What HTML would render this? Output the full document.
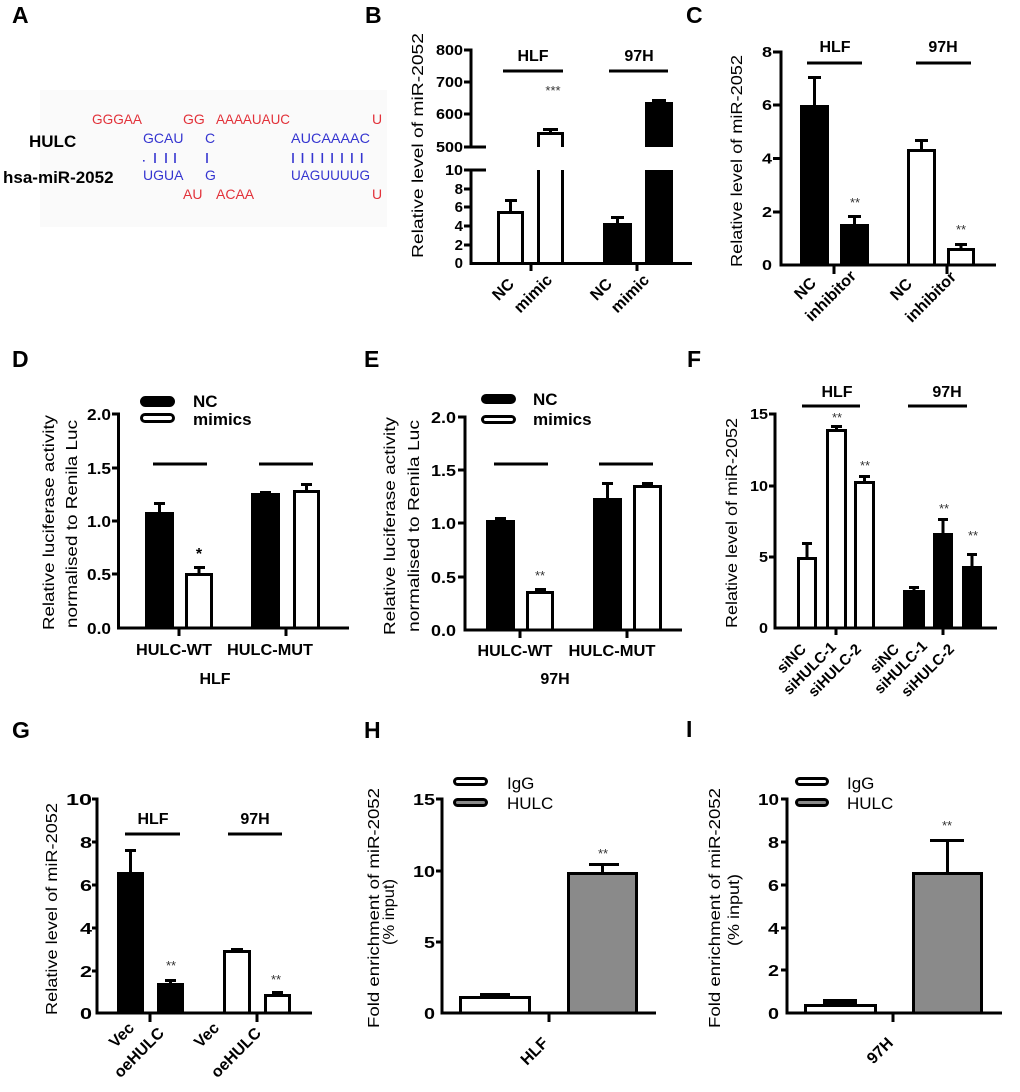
<!DOCTYPE html>
<html><head><meta charset="utf-8">
<style>
html,body{margin:0;padding:0;background:#fff;}
svg{display:block;font-family:"Liberation Sans",Arial,sans-serif;}
.pl{font-weight:bold;font-size:23px;}
.tk{font-weight:bold;font-size:15px;text-anchor:end;}
.tk16{font-weight:bold;font-size:16px;text-anchor:end;}
.xl{font-weight:bold;font-size:16px;text-anchor:end;}
.xl14{font-weight:bold;font-size:15px;text-anchor:end;}
.gl{font-weight:bold;font-size:16px;text-anchor:middle;}
.gl16{font-weight:bold;font-size:16px;text-anchor:middle;}
.yl{font-size:16px;text-anchor:middle;}
.st{font-size:13px;fill:#333;text-anchor:middle;}
.lg{font-weight:bold;font-size:17px;}
.lgr{font-size:17px;}
.rna{font-size:14px;}
</style></head><body>
<svg width="1020" height="1092" viewBox="0 0 1020 1092" xmlns="http://www.w3.org/2000/svg">
<rect width="1020" height="1092" fill="#fff"/>

<!-- panel letters -->
<text class="pl" x="12" y="23">A</text>
<text class="pl" x="365" y="23">B</text>
<text class="pl" x="686" y="23">C</text>
<text class="pl" x="12" y="367">D</text>
<text class="pl" x="364" y="367">E</text>
<text class="pl" x="687" y="367">F</text>
<text class="pl" x="12" y="738">G</text>
<text class="pl" x="364" y="738">H</text>
<text class="pl" x="686" y="737">I</text>

<!-- ================= A ================= -->
<rect x="40" y="90" width="347" height="137" fill="#fafafa"/>
<text x="29" y="147" font-weight="bold" font-size="17">HULC</text>
<text x="3" y="183" font-weight="bold" font-size="17">hsa-miR-2052</text>
<g class="rna" fill="#e2323a">
<text x="92" y="124" textLength="50" lengthAdjust="spacingAndGlyphs">GGGAA</text>
<text x="183" y="124">GG</text>
<text x="216" y="124" textLength="74" lengthAdjust="spacingAndGlyphs">AAAAUAUC</text>
<text x="372" y="124">U</text>
<text x="183" y="199">AU</text>
<text x="216" y="199">ACAA</text>
<text x="372" y="199">U</text>
</g>
<g class="rna" fill="#3535d0">
<text x="143" y="143">GCAU</text>
<text x="205" y="143">C</text>
<text x="291" y="143" textLength="79" lengthAdjust="spacingAndGlyphs">AUCAAAAC</text>
<text x="143" y="180">UGUA</text>
<text x="205" y="180">G</text>
<text x="291" y="180" textLength="79" lengthAdjust="spacingAndGlyphs">UAGUUUUG</text>
</g>
<g stroke="#3535d0" stroke-width="1.6">
<path d="M155 153V163M166 153V163M175 153V163M207 153V163M293 153V163M302.5 153V163M312.4 153V163M322.3 153V163M332.1 153V163M342 153V163M351.9 153V163M361.7 153V163"/>
</g>
<rect x="143" y="160" width="1.6" height="1.6" fill="#3535d0"/>

<!-- ================= B ================= -->
<g stroke="#000" stroke-width="3" fill="none">
<path d="M471 48.5V147M471 170V265"/>
<path d="M464 50H472M464 82H472M464 114H472M464 147H486M464 170H486M464 189H472M464 207H472M464 226H472M464 245H472"/>
<path d="M469.5 263.5H692"/>
<path d="M531 263V271M637 263V271"/>
<path d="M503 71H563M609 71H668"/>
<rect x="498.5" y="212.5" width="24" height="51" fill="#fff"/>
<path d="M510.5 211V199M505 200.5H517"/>
<path d="M538.5 170V263M562.5 170V263"/>
<path d="M538.5 147V133.5H562.5V147"/>
<path d="M550.5 132V128M543 129.5H558"/>
<path d="M617.5 223V216M611 217.5H624"/>
<path d="M659 102V99M652 100.5H666"/>
</g>
<rect x="603" y="223" width="29" height="40.5" fill="#000"/>
<rect x="645" y="170" width="28" height="93.5" fill="#000"/>
<rect x="645" y="102" width="28" height="45" fill="#000"/>
<g class="tk" font-size="14.5">
<text x="463" y="55" textLength="27" lengthAdjust="spacingAndGlyphs">800</text>
<text x="463" y="87" textLength="27" lengthAdjust="spacingAndGlyphs">700</text>
<text x="463" y="119" textLength="27" lengthAdjust="spacingAndGlyphs">600</text>
<text x="463" y="152" textLength="27" lengthAdjust="spacingAndGlyphs">500</text>
<text x="463" y="175" textLength="18" lengthAdjust="spacingAndGlyphs">10</text>
<text x="463" y="194">8</text>
<text x="463" y="212">6</text>
<text x="463" y="231">4</text>
<text x="463" y="250">2</text>
<text x="463" y="268">0</text>
</g>
<text class="gl" x="533" y="61">HLF</text>
<text class="gl" x="639" y="61">97H</text>
<text class="st" x="553" y="95">***</text>
<text class="xl" transform="translate(515,285) rotate(-45)">NC</text>
<text class="xl" transform="translate(553,281) rotate(-45)">mimic</text>
<text class="xl" transform="translate(613,285) rotate(-45)">NC</text>
<text class="xl" transform="translate(650,281) rotate(-45)">mimic</text>
<text class="yl" transform="translate(423,145.5) rotate(-90)" textLength="225" lengthAdjust="spacingAndGlyphs">Relative level of miR-2052</text>

<!-- ================= C ================= -->
<g stroke="#000" stroke-width="3" fill="none">
<path d="M781 50.5V266.5"/>
<path d="M773 52H781M773 105H781M773 158.5H781M773 212H781"/>
<path d="M779.5 265H996"/>
<path d="M834 265V274M947 265V274"/>
<path d="M807 63H862M916 63H971"/>
<path d="M814.5 105V76M808 77.5H821"/>
<path d="M854.5 224V215M848 216.5H861"/>
<rect x="908.5" y="150.5" width="26" height="114.5" fill="#fff"/>
<path d="M921.5 149V139M915 140.5H928"/>
<rect x="948.5" y="249.5" width="25" height="15.5" fill="#fff"/>
<path d="M961 248V243M955 244.5H967"/>
</g>
<rect x="800" y="105" width="29" height="160" fill="#000"/>
<rect x="840" y="224" width="29" height="41" fill="#000"/>
<g class="tk">
<text x="772" y="57" textLength="10" lengthAdjust="spacingAndGlyphs">8</text>
<text x="772" y="110" textLength="10" lengthAdjust="spacingAndGlyphs">6</text>
<text x="772" y="163.5" textLength="10" lengthAdjust="spacingAndGlyphs">4</text>
<text x="772" y="217" textLength="10" lengthAdjust="spacingAndGlyphs">2</text>
<text x="772" y="270" textLength="10" lengthAdjust="spacingAndGlyphs">0</text>
</g>
<text class="gl" x="835" y="52">HLF</text>
<text class="gl" x="943" y="52">97H</text>
<text class="st" x="855" y="207">**</text>
<text class="st" x="961" y="234">**</text>
<text class="xl" transform="translate(817,284) rotate(-45)">NC</text>
<text class="xl" transform="translate(857,277) rotate(-45)">inhibitor</text>
<text class="xl" transform="translate(913,285) rotate(-45)">NC</text>
<text class="xl" transform="translate(957,278) rotate(-45)">inhibitor</text>
<text class="yl" transform="translate(742,161) rotate(-90)" textLength="212" lengthAdjust="spacingAndGlyphs">Relative level of miR-2052</text>

<!-- ================= D ================= -->
<g stroke="#000" stroke-width="3" fill="none">
<path d="M118.5 412.5V629.5"/>
<path d="M112 414H119M112 468H119M112 521H119M112 574H119"/>
<path d="M117 628H349"/>
<path d="M179 628V636M286 628V636"/>
<path d="M153 464H207M259 464H313"/>
<path d="M159.5 512V502M154 503.5H165"/>
<rect x="186.5" y="574.5" width="25" height="53.5" fill="#fff"/>
<path d="M199 573V566M194 567.5H205"/>
<path d="M265.5 493V491M260 492.5H271"/>
<rect x="294.5" y="491.5" width="24" height="136.5" fill="#fff"/>
<path d="M306.5 490V483M301 484.5H312"/>
<rect x="141.5" y="397.5" width="32" height="8" rx="4" fill="#000"/>
<rect x="141.5" y="414.5" width="32" height="7" rx="3.5" fill="#fff"/>
</g>
<rect x="145" y="512" width="29" height="116" fill="#000"/>
<rect x="251" y="493" width="29" height="135" fill="#000"/>
<g class="tk16">
<text x="111" y="420" textLength="24" lengthAdjust="spacingAndGlyphs">2.0</text>
<text x="111" y="474" textLength="24" lengthAdjust="spacingAndGlyphs">1.5</text>
<text x="111" y="527" textLength="24" lengthAdjust="spacingAndGlyphs">1.0</text>
<text x="111" y="580" textLength="24" lengthAdjust="spacingAndGlyphs">0.5</text>
<text x="111" y="634" textLength="24" lengthAdjust="spacingAndGlyphs">0.0</text>
</g>
<text x="199" y="559" font-size="16" font-weight="bold" text-anchor="middle">*</text>
<text class="gl16" x="174" y="655" textLength="76" lengthAdjust="spacingAndGlyphs">HULC-WT</text>
<text class="gl16" x="270" y="655" textLength="86" lengthAdjust="spacingAndGlyphs">HULC-MUT</text>
<text class="gl16" x="215" y="684">HLF</text>
<text class="lg" x="193" y="407">NC</text>
<text class="lg" x="193" y="425">mimics</text>
<text class="yl" transform="translate(54,522.5) rotate(-90)" textLength="215" lengthAdjust="spacingAndGlyphs">Relative luciferase activity</text>
<text class="yl" transform="translate(77,524) rotate(-90)" textLength="208" lengthAdjust="spacingAndGlyphs">normalised to Renila Luc</text>

<!-- ================= E ================= -->
<g stroke="#000" stroke-width="3" fill="none">
<path d="M465 415.5V631.5"/>
<path d="M458 417H466M458 470H466M458 523H466M458 577H466"/>
<path d="M463.5 630H682"/>
<path d="M520 630V638M627 630V638"/>
<path d="M494 464H548M599 464H653"/>
<path d="M500.5 520V517M495 518.5H506"/>
<rect x="527.5" y="592.5" width="25" height="37.5" fill="#fff"/>
<path d="M540 591V588M535 589.5H546"/>
<path d="M607.5 498V482M602 483.5H613"/>
<rect x="634.5" y="486.5" width="26" height="143.5" fill="#fff"/>
<path d="M647.5 485V482M642 483.5H653"/>
<rect x="482.5" y="395.5" width="32" height="7" rx="3.5" fill="#000"/>
<rect x="482.5" y="416.5" width="32" height="6" rx="3" fill="#fff"/>
</g>
<rect x="486" y="520" width="29" height="110" fill="#000"/>
<rect x="593" y="498" width="29" height="132" fill="#000"/>
<g class="tk16">
<text x="456" y="423" textLength="25" lengthAdjust="spacingAndGlyphs">2.0</text>
<text x="456" y="476" textLength="25" lengthAdjust="spacingAndGlyphs">1.5</text>
<text x="456" y="529" textLength="25" lengthAdjust="spacingAndGlyphs">1.0</text>
<text x="456" y="583" textLength="25" lengthAdjust="spacingAndGlyphs">0.5</text>
<text x="456" y="636" textLength="25" lengthAdjust="spacingAndGlyphs">0.0</text>
</g>
<text class="st" x="540" y="580">**</text>
<text class="gl16" x="515" y="656" textLength="75" lengthAdjust="spacingAndGlyphs">HULC-WT</text>
<text class="gl16" x="612" y="656" textLength="87" lengthAdjust="spacingAndGlyphs">HULC-MUT</text>
<text class="gl16" x="555" y="684">97H</text>
<text class="lg" x="533" y="405">NC</text>
<text class="lg" x="533" y="425">mimics</text>
<text class="yl" transform="translate(395,526) rotate(-90)" textLength="218" lengthAdjust="spacingAndGlyphs">Relative luciferase activity</text>
<text class="yl" transform="translate(419,526) rotate(-90)" textLength="212" lengthAdjust="spacingAndGlyphs">normalised to Renila Luc</text>

<!-- ================= F ================= -->
<g stroke="#000" stroke-width="3" fill="none">
<path d="M775 412.5V629.5"/>
<path d="M769 414H776M769 486H776M769 557H776"/>
<path d="M773.5 628H997"/>
<path d="M836 628V635M943 628V635"/>
<path d="M802 406H860M908 406H967"/>
<rect x="798.5" y="558.5" width="17" height="69.5" fill="#fff"/>
<path d="M807 557V542M802 543.5H812"/>
<rect x="827.5" y="430.5" width="18" height="197.5" fill="#fff"/>
<path d="M836.5 429V425M831 426.5H842"/>
<rect x="855.5" y="482.5" width="18" height="145.5" fill="#fff"/>
<path d="M864.5 481V475M859 476.5H870"/>
<path d="M914 590V586M909 587.5H919"/>
<path d="M943 533V518M938 519.5H948"/>
<path d="M972 566V553M967 554.5H977"/>
</g>
<rect x="903" y="590" width="22" height="38" fill="#000"/>
<rect x="933" y="533" width="20" height="95" fill="#000"/>
<rect x="962" y="566" width="20" height="62" fill="#000"/>
<g class="tk">
<text x="768" y="419" textLength="18" lengthAdjust="spacingAndGlyphs">15</text>
<text x="768" y="491" textLength="18" lengthAdjust="spacingAndGlyphs">10</text>
<text x="768" y="562" textLength="9" lengthAdjust="spacingAndGlyphs">5</text>
<text x="768" y="633" textLength="9" lengthAdjust="spacingAndGlyphs">0</text>
</g>
<text class="gl" x="837" y="397">HLF</text>
<text class="gl" x="947" y="397">97H</text>
<text class="st" x="837" y="422">**</text>
<text class="st" x="865" y="470">**</text>
<text class="st" x="944" y="513">**</text>
<text class="st" x="973" y="540">**</text>
<text class="xl14" transform="translate(807,650) rotate(-45)">siNC</text>
<text class="xl14" transform="translate(837,648) rotate(-45)">siHULC-1</text>
<text class="xl14" transform="translate(862,650) rotate(-45)">siHULC-2</text>
<text class="xl14" transform="translate(900,650) rotate(-45)">siNC</text>
<text class="xl14" transform="translate(928,647) rotate(-45)">siHULC-1</text>
<text class="xl14" transform="translate(955,650) rotate(-45)">siHULC-2</text>
<text class="yl" transform="translate(737,523) rotate(-90)" textLength="210" lengthAdjust="spacingAndGlyphs">Relative level of miR-2052</text>

<!-- ================= G ================= -->
<g stroke="#000" stroke-width="3" fill="none">
<path d="M97 797.5V1014.5"/>
<path d="M92 799H98M92 842H98M92 885H98M92 928H98M92 971H98"/>
<path d="M95.5 1013H312"/>
<path d="M150 1013V1022M257 1013V1022"/>
<path d="M125 834H180M228 834H282"/>
<path d="M130.5 872V849M125 850.5H136"/>
<path d="M170.5 983V979M165 980.5H176"/>
<rect x="224.5" y="951.5" width="25" height="61.5" fill="#fff"/>
<path d="M237 950V948M231 949.5H243"/>
<rect x="265.5" y="995.5" width="24" height="17.5" fill="#fff"/>
<path d="M277.5 994V991M272 992.5H283"/>
</g>
<rect x="117" y="872" width="27" height="141" fill="#000"/>
<rect x="157" y="983" width="27" height="30" fill="#000"/>
<g class="tk16">
<text x="92" y="805" textLength="26" lengthAdjust="spacingAndGlyphs">10</text>
<text x="92" y="848" textLength="12" lengthAdjust="spacingAndGlyphs">8</text>
<text x="92" y="891" textLength="12" lengthAdjust="spacingAndGlyphs">6</text>
<text x="92" y="934" textLength="12" lengthAdjust="spacingAndGlyphs">4</text>
<text x="92" y="977" textLength="12" lengthAdjust="spacingAndGlyphs">2</text>
<text x="92" y="1019" textLength="12" lengthAdjust="spacingAndGlyphs">0</text>
</g>
<text class="gl16" x="153" y="824">HLF</text>
<text class="gl16" x="255" y="824">97H</text>
<text class="st" x="171" y="970">**</text>
<text class="st" x="276" y="984">**</text>
<text class="xl" font-size="17" transform="translate(135,1029) rotate(-45)">Vec</text>
<text class="xl" font-size="17" transform="translate(165,1034) rotate(-45)">oeHULC</text>
<text class="xl" font-size="17" transform="translate(220,1029) rotate(-45)">Vec</text>
<text class="xl" font-size="17" transform="translate(262,1034) rotate(-45)">oeHULC</text>
<text class="yl" transform="translate(57,909) rotate(-90)" textLength="212" lengthAdjust="spacingAndGlyphs">Relative level of miR-2052</text>

<!-- ================= H ================= -->
<g stroke="#000" stroke-width="3" fill="none">
<path d="M442 797.5V1014.5"/>
<path d="M436 799H443M436 871H443M436 942H443"/>
<path d="M440.5 1013H656"/>
<path d="M549 1013V1022"/>
<rect x="460.5" y="997.5" width="69" height="15.5" fill="#fff"/>
<path d="M495 996V993M480 994.5H510"/>
<rect x="568.5" y="873.5" width="68" height="139.5" fill="#8a8a8a"/>
<path d="M602.5 872V863M589 864.5H619"/>
<rect x="454.5" y="778.5" width="32" height="6" rx="3" fill="#fff"/>
<rect x="454.5" y="799.5" width="32" height="6" rx="3" fill="#8a8a8a"/>
</g>
<g class="tk16">
<text x="435" y="805" textLength="22" lengthAdjust="spacingAndGlyphs">15</text>
<text x="435" y="877" textLength="22" lengthAdjust="spacingAndGlyphs">10</text>
<text x="435" y="948" textLength="11" lengthAdjust="spacingAndGlyphs">5</text>
<text x="435" y="1019" textLength="11" lengthAdjust="spacingAndGlyphs">0</text>
</g>
<text class="st" x="603" y="858">**</text>
<text class="xl" transform="translate(549,1044) rotate(-45)">HLF</text>
<text class="lgr" x="507" y="789">IgG</text>
<text class="lgr" x="507" y="809">HULC</text>
<text class="yl" transform="translate(379,908) rotate(-90)" textLength="240" lengthAdjust="spacingAndGlyphs">Fold enrichment of miR-2052</text>
<text class="yl" transform="translate(394,912) rotate(-90)" textLength="66" lengthAdjust="spacingAndGlyphs">(% input)</text>

<!-- ================= I ================= -->
<g stroke="#000" stroke-width="3" fill="none">
<path d="M787 797.5V1014.5"/>
<path d="M781 799H788M781 842H788M781 885H788M781 928H788M781 970H788"/>
<path d="M785.5 1013H1002"/>
<path d="M893 1013V1022"/>
<rect x="805.5" y="1005.5" width="70" height="7.5" fill="#fff"/>
<rect x="913.5" y="873.5" width="68" height="139.5" fill="#8a8a8a"/>
<path d="M947.5 872V839M930 840.5H964"/>
<rect x="796.5" y="778.5" width="31" height="6" rx="3" fill="#fff"/>
<rect x="796.5" y="799.5" width="31" height="6" rx="3" fill="#8a8a8a"/>
</g>
<rect x="823" y="999" width="34" height="6" fill="#000"/>
<g class="tk16">
<text x="779" y="805" textLength="21" lengthAdjust="spacingAndGlyphs">10</text>
<text x="779" y="848" textLength="11" lengthAdjust="spacingAndGlyphs">8</text>
<text x="779" y="891" textLength="11" lengthAdjust="spacingAndGlyphs">6</text>
<text x="779" y="934" textLength="11" lengthAdjust="spacingAndGlyphs">4</text>
<text x="779" y="976" textLength="11" lengthAdjust="spacingAndGlyphs">2</text>
<text x="779" y="1019" textLength="11" lengthAdjust="spacingAndGlyphs">0</text>
</g>
<text class="st" x="947" y="830">**</text>
<text class="xl" transform="translate(894,1044) rotate(-45)">97H</text>
<text class="lgr" x="847" y="789">IgG</text>
<text class="lgr" x="847" y="809">HULC</text>
<text class="yl" transform="translate(720,908) rotate(-90)" textLength="240" lengthAdjust="spacingAndGlyphs">Fold enrichment of miR-2052</text>
<text class="yl" transform="translate(739,910) rotate(-90)" textLength="72" lengthAdjust="spacingAndGlyphs">(% input)</text>
</svg>
</body></html>
